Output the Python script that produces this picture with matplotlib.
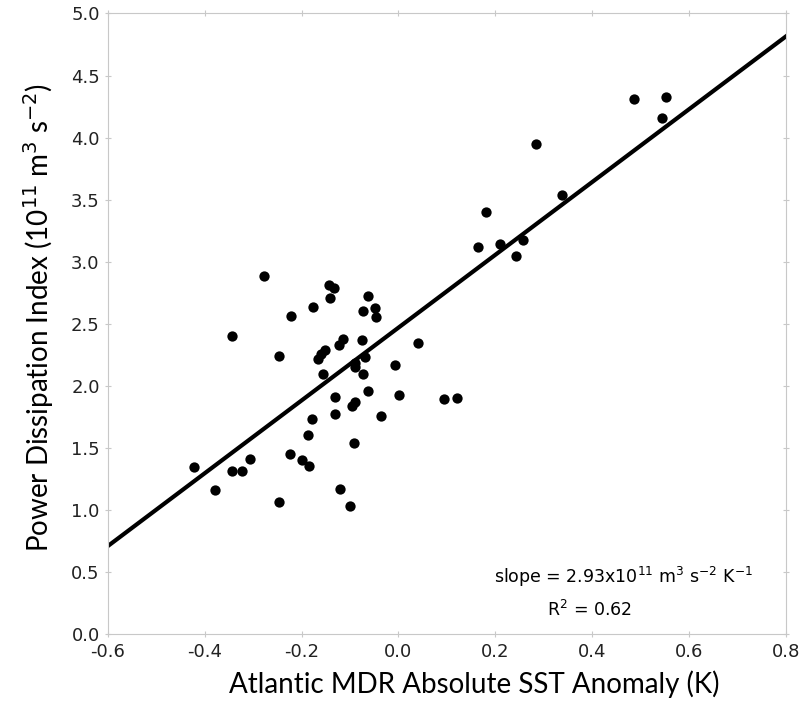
import numpy as np
import matplotlib.pyplot as plt

# Atlantic MDR SST anomaly (K) vs Power Dissipation Index (1e11 m^3 s^-2)
sst = [-0.278, -0.144, -0.133, -0.141, -0.177, -0.223, -0.344, -0.247, -0.114, -0.122,
       -0.151, -0.160, -0.167, -0.423, -0.378, -0.344, -0.323, -0.306, -0.247, -0.225,
       -0.200, -0.184, -0.186, -0.179, -0.131, -0.131, -0.155, -0.120, -0.100, 0.285,
       0.337, 0.180, 0.164, 0.210, 0.258, 0.242, -0.062, -0.074, -0.049, -0.047,
       -0.075, 0.041, -0.069, -0.089, -0.089, -0.007, -0.074, -0.062, 0.001, 0.095,
       0.121, -0.089, -0.097, -0.036, -0.091, 0.487, 0.553, 0.544]
pdi = [2.884, 2.817, 2.790, 2.710, 2.634, 2.565, 2.403, 2.239, 2.381, 2.327,
       2.293, 2.258, 2.218, 1.344, 1.166, 1.317, 1.315, 1.416, 1.069, 1.452,
       1.406, 1.352, 1.602, 1.734, 1.911, 1.777, 2.099, 1.169, 1.037, 3.946,
       3.540, 3.400, 3.123, 3.140, 3.177, 3.043, 2.728, 2.605, 2.631, 2.553,
       2.368, 2.344, 2.234, 2.182, 2.156, 2.172, 2.097, 1.962, 1.927, 1.898,
       1.900, 1.868, 1.836, 1.760, 1.540, 4.315, 4.327, 4.161]

slope = 2.93
intercept = 2.47
r2 = 0.62

fig = plt.figure(figsize=(8.03, 7.08), dpi=100)
ax = fig.add_axes([0.1345, 0.104, 0.844, 0.877])

xfit = np.array([-0.6, 0.8])
ax.plot(xfit, intercept + slope * xfit, color='black', lw=3, zorder=2)
ax.scatter(sst, pdi, s=55, color='black', zorder=3, linewidths=0)

ax.set_xlim(-0.6, 0.8)
ax.set_ylim(0, 5)
ax.set_xticks(np.arange(-0.6, 0.81, 0.2))
ax.set_yticks(np.arange(0, 5.01, 0.5))
ax.xaxis.set_major_formatter(plt.FormatStrFormatter('%.1f'))
ax.yaxis.set_major_formatter(plt.FormatStrFormatter('%.1f'))

for s in ax.spines.values():
    s.set_color('#c8c8c8')
ax.tick_params(direction='inout', length=5, color='#c8c8c8', labelsize=13,
               top=True, right=True, labelcolor='#222222')
for t in ax.get_xticklabels() + ax.get_yticklabels():
    t.set_family('DejaVu Sans')

lab_font = ['Lato', 'DejaVu Sans']
ax.set_xlabel('Atlantic MDR Absolute SST Anomaly (K)', fontsize=20,
              family=lab_font)
ax.set_ylabel('Power Dissipation Index (10$^{11}$ m$^3$ s$^{-2}$)', fontsize=20,
              family=lab_font)
ax.xaxis.set_label_coords(0.54, -0.058)
ax.yaxis.set_label_coords(-0.077, 0.51)

ax.text(0.761, 0.092, 'slope = 2.93x10$^{11}$ m$^3$ s$^{-2}$ K$^{-1}$', transform=ax.transAxes,
        ha='center', va='center', fontsize=12.5)
ax.text(0.711, 0.039, 'R$^2$ = %.2f' % r2, transform=ax.transAxes,
        ha='center', va='center', fontsize=12.5)

fig.savefig('out.png', dpi=100)
